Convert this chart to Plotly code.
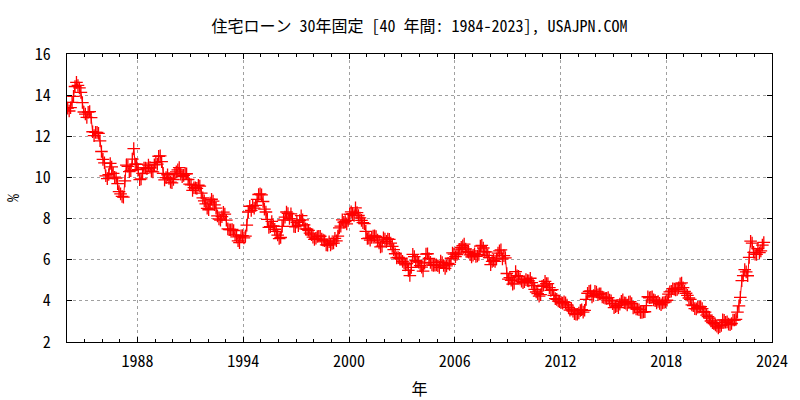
import plotly.graph_objects as go

# 30-year fixed mortgage rate (%), monthly, Jan 1984 .. Jul 2023
start_year = 1984
rate_pct = [
    13.37, 13.23, 13.39, 13.65, 13.94, 14.42, 14.62, 14.47, 14.35, 14.13, 13.64, 13.18,  # 1984
    13.08, 12.92, 13.17, 13.20, 12.91, 12.22, 12.03, 12.19, 12.19, 12.14, 11.78, 11.26,  # 1985
    10.88, 10.71, 10.08, 9.94, 10.14, 10.68, 10.51, 10.20, 10.01, 9.97, 9.70, 9.31,      # 1986
    9.20, 9.08, 9.04, 9.83, 10.60, 10.54, 10.28, 10.33, 10.89, 11.40, 10.65, 10.64,      # 1987
    10.38, 9.89, 9.93, 10.20, 10.46, 10.46, 10.43, 10.60, 10.48, 10.30, 10.27, 10.61,    # 1988
    10.73, 10.65, 11.03, 11.05, 10.77, 10.20, 9.88, 9.99, 10.13, 9.95, 9.77, 9.74,       # 1989
    9.90, 10.20, 10.27, 10.37, 10.48, 10.16, 10.04, 10.10, 10.18, 10.18, 9.90, 9.67,     # 1990
    9.64, 9.37, 9.50, 9.49, 9.47, 9.62, 9.58, 9.24, 9.01, 8.86, 8.71, 8.50,              # 1991
    8.43, 8.76, 8.94, 8.85, 8.67, 8.51, 8.13, 7.98, 7.92, 8.09, 8.31, 8.22,              # 1992
    7.92, 7.50, 7.46, 7.46, 7.47, 7.42, 7.21, 7.11, 6.92, 6.83, 7.16, 7.17,              # 1993
    7.06, 7.15, 7.68, 8.32, 8.60, 8.40, 8.61, 8.51, 8.64, 8.93, 9.17, 9.20,              # 1994
    9.15, 8.83, 8.46, 8.32, 7.96, 7.57, 7.61, 7.86, 7.64, 7.48, 7.38, 7.20,              # 1995
    7.03, 7.08, 7.62, 7.93, 8.07, 8.32, 8.25, 8.00, 8.23, 7.92, 7.62, 7.60,              # 1996
    7.82, 7.65, 7.90, 8.14, 7.94, 7.69, 7.50, 7.48, 7.43, 7.29, 7.21, 7.10,              # 1997
    6.99, 7.04, 7.13, 7.14, 7.14, 7.00, 6.95, 6.92, 6.72, 6.71, 6.87, 6.72,              # 1998
    6.79, 6.81, 7.04, 6.92, 7.15, 7.55, 7.63, 7.94, 7.82, 7.85, 7.74, 7.91,              # 1999
    8.21, 8.33, 8.24, 8.15, 8.52, 8.29, 8.15, 8.03, 7.91, 7.80, 7.75, 7.38,              # 2000
    7.03, 7.05, 6.95, 7.08, 7.15, 7.16, 7.13, 6.95, 6.82, 6.62, 6.66, 7.07,              # 2001
    7.00, 6.89, 7.01, 6.99, 6.81, 6.65, 6.49, 6.29, 6.09, 6.11, 6.07, 6.05,              # 2002
    5.92, 5.84, 5.75, 5.81, 5.48, 5.23, 5.63, 6.26, 6.15, 5.95, 5.93, 5.88,              # 2003
    5.71, 5.64, 5.45, 5.83, 6.27, 6.29, 6.06, 5.87, 5.75, 5.72, 5.73, 5.75,              # 2004
    5.71, 5.63, 5.93, 5.86, 5.72, 5.58, 5.70, 5.82, 5.77, 6.07, 6.33, 6.27,              # 2005
    6.15, 6.25, 6.32, 6.51, 6.60, 6.68, 6.76, 6.52, 6.40, 6.36, 6.24, 6.14,              # 2006
    6.22, 6.29, 6.16, 6.18, 6.26, 6.66, 6.70, 6.57, 6.38, 6.38, 6.21, 6.10,              # 2007
    5.76, 5.92, 5.97, 5.92, 6.04, 6.32, 6.43, 6.48, 6.04, 6.20, 6.09, 5.33,              # 2008
    5.06, 5.13, 5.00, 4.81, 4.86, 5.42, 5.22, 5.19, 5.06, 4.95, 4.88, 4.93,              # 2009
    5.03, 4.99, 4.97, 5.10, 4.89, 4.74, 4.56, 4.43, 4.35, 4.23, 4.30, 4.71,              # 2010
    4.76, 4.95, 4.84, 4.84, 4.64, 4.51, 4.55, 4.27, 4.11, 4.07, 3.99, 3.96,              # 2011
    3.92, 3.89, 3.95, 3.91, 3.80, 3.68, 3.55, 3.60, 3.50, 3.38, 3.35, 3.35,              # 2012
    3.41, 3.53, 3.57, 3.45, 3.54, 4.07, 4.37, 4.46, 4.49, 4.19, 4.26, 4.46,              # 2013
    4.43, 4.30, 4.34, 4.34, 4.19, 4.16, 4.13, 4.12, 4.16, 4.04, 4.00, 3.86,              # 2014
    3.67, 3.71, 3.77, 3.67, 3.84, 3.98, 4.05, 3.91, 3.89, 3.80, 3.94, 3.96,              # 2015
    3.87, 3.66, 3.69, 3.61, 3.60, 3.57, 3.44, 3.44, 3.46, 3.47, 3.77, 4.20,              # 2016
    4.15, 4.17, 4.20, 4.05, 4.01, 3.90, 3.97, 3.88, 3.81, 3.90, 3.92, 3.95,              # 2017
    4.03, 4.33, 4.44, 4.47, 4.59, 4.57, 4.53, 4.55, 4.63, 4.83, 4.87, 4.64,              # 2018
    4.46, 4.37, 4.27, 4.14, 4.07, 3.80, 3.77, 3.62, 3.61, 3.69, 3.70, 3.72,              # 2019
    3.62, 3.47, 3.45, 3.31, 3.23, 3.16, 3.02, 2.94, 2.89, 2.83, 2.77, 2.68,              # 2020
    2.74, 2.81, 3.08, 3.06, 2.96, 2.98, 2.87, 2.84, 2.90, 3.07, 3.07, 3.10,              # 2021
    3.45, 3.76, 4.17, 4.98, 5.23, 5.52, 5.41, 5.22, 6.11, 6.90, 6.81, 6.36,              # 2022
    6.27, 6.26, 6.54, 6.34, 6.43, 6.71, 6.84,                                            # 2023
]
x_tick_years = ["1988", "1994", "2000", "2006", "2012", "2018", "2024"]
y_tick_vals = [2, 4, 6, 8, 10, 12, 14, 16]

dates = [f"{start_year + i // 12}-{i % 12 + 1:02d}-15" for i in range(len(rate_pct))]

FONT = "Noto Sans Mono CJK JP, Liberation Mono, Noto Sans CJK JP, monospace"

fig = go.Figure()
fig.add_trace(go.Scatter(
    x=dates, y=rate_pct, mode="lines+markers",
    line=dict(color="#ff0000", width=1),
    marker=dict(symbol="cross-thin", size=9, line=dict(color="#ff0000", width=1.3)),
    showlegend=False,
))

axis_common = dict(
    showline=True, linecolor="black", linewidth=1, mirror="allticks",
    ticks="inside", tickcolor="black", ticklen=5,
    showgrid=True, gridcolor="#a0a0a0", griddash="dot", gridwidth=1,
    zeroline=False, tickfont=dict(family=FONT, size=16, color="black"),
)

fig.update_layout(
    width=800, height=400,
    margin=dict(l=67, r=28, t=54, b=58),
    paper_bgcolor="white", plot_bgcolor="white",
    font=dict(family=FONT, size=16, color="black"),
    title=dict(text="住宅ローン 30年固定 [40 年間: 1984-2023], USAJPN.COM",
               x=0.5245, xanchor="center", y=0.935, yanchor="middle",
               font=dict(family=FONT, size=16, color="black")),
    xaxis=dict(
        axis_common, type="date",
        range=["1984-01-01", "2024-01-01"],
        tickvals=[f"{y}-01-01" for y in x_tick_years], ticktext=x_tick_years,
        minor=dict(dtick="M12", tick0="1984-01-01", ticks="inside", ticklen=3,
                   tickcolor="black", showgrid=False),
        ticklabelstandoff=5,
        title=dict(text="年", standoff=12, font=dict(family=FONT, size=16)),
        automargin=False,
    ),
    yaxis=dict(
        axis_common, range=[2, 16], tickvals=y_tick_vals,
        ticklabelstandoff=12,
        title=dict(text="%", standoff=16, font=dict(family=FONT, size=16)),
        automargin=False,
    ),
)

fig.write_html("out.html")
